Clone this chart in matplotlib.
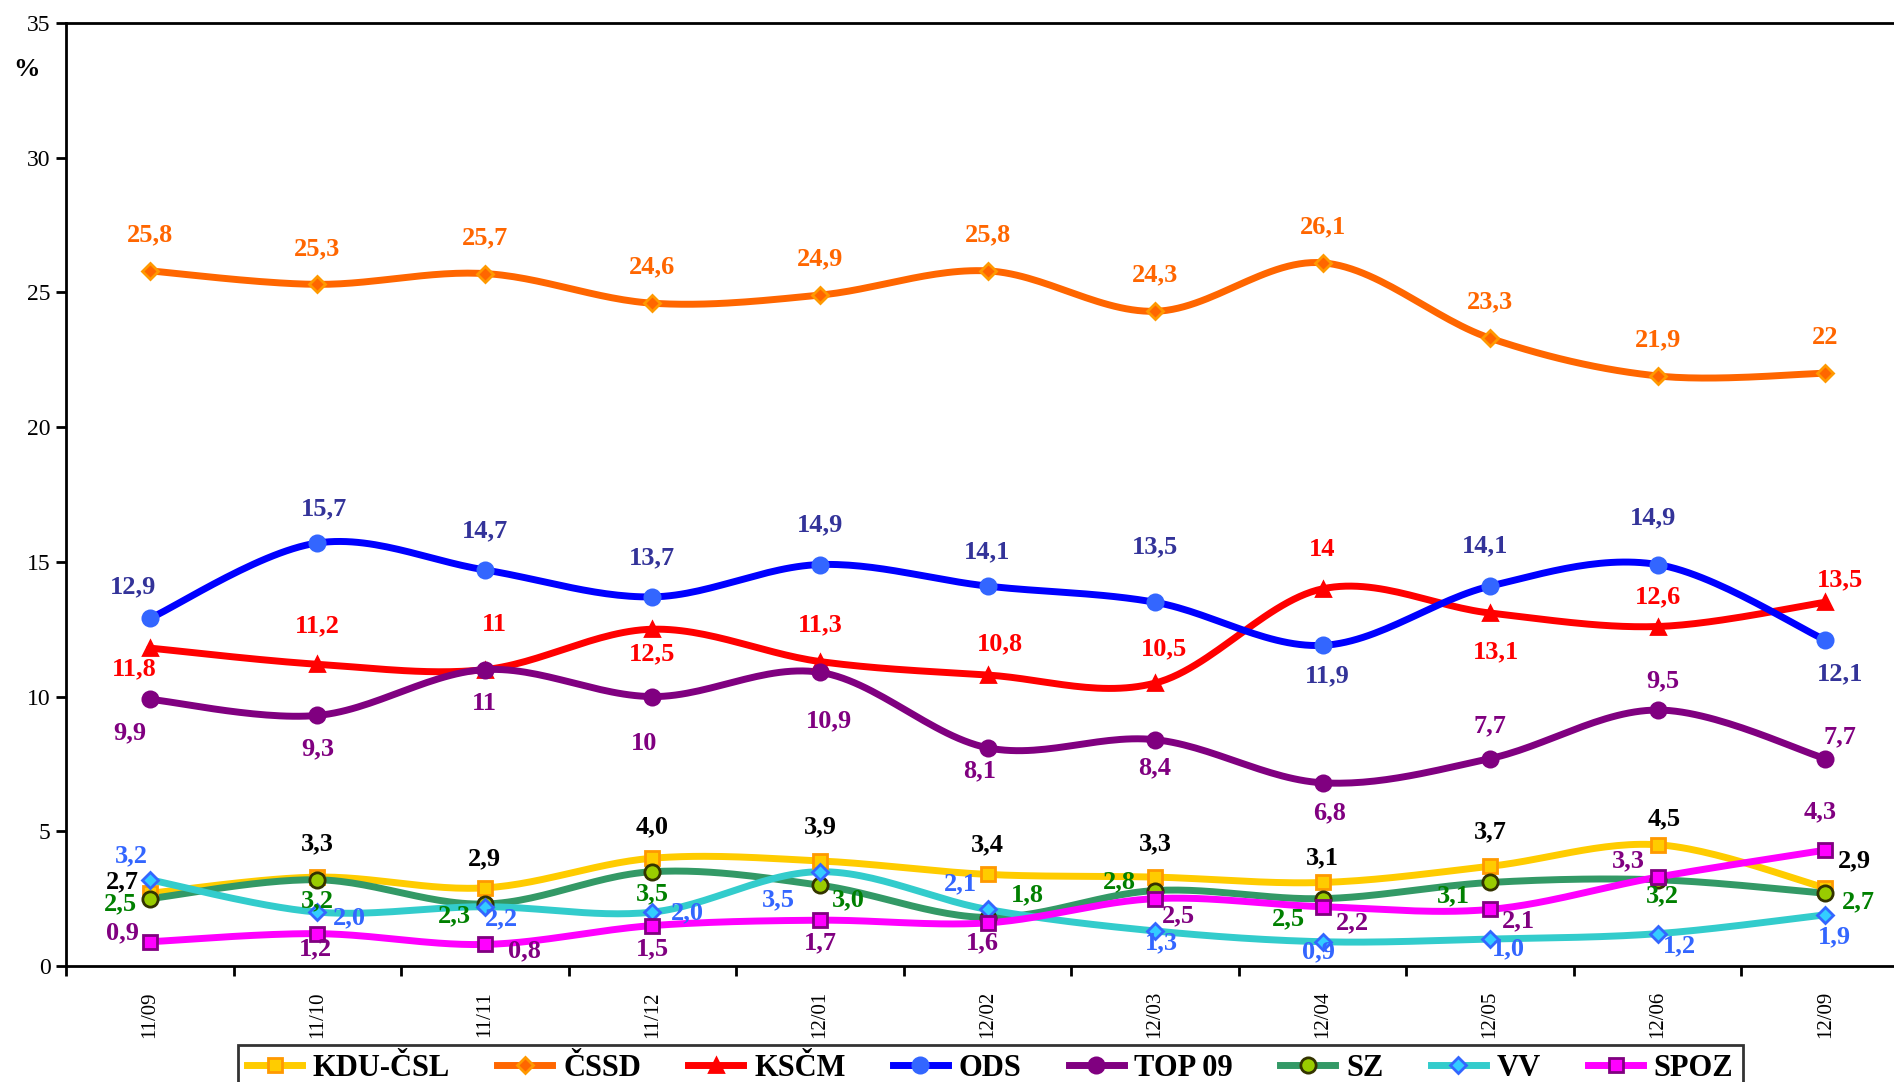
import numpy as np
import matplotlib
matplotlib.use("Agg")
import matplotlib.pyplot as plt
from matplotlib.lines import Line2D

plt.rcParams['font.family'] = ['Liberation Serif', 'DejaVu Serif']

months = ["11/09", "11/10", "11/11", "11/12", "12/01", "12/02",
          "12/03", "12/04", "12/05", "12/06", "12/09"]

kdu = [2.7, 3.3, 2.9, 4.0, 3.9, 3.4, 3.3, 3.1, 3.7, 4.5, 2.9]
cssd = [25.8, 25.3, 25.7, 24.6, 24.9, 25.8, 24.3, 26.1, 23.3, 21.9, 22]
kscm = [11.8, 11.2, 11, 12.5, 11.3, 10.8, 10.5, 14, 13.1, 12.6, 13.5]
ods = [12.9, 15.7, 14.7, 13.7, 14.9, 14.1, 13.5, 11.9, 14.1, 14.9, 12.1]
top09 = [9.9, 9.3, 11, 10, 10.9, 8.1, 8.4, 6.8, 7.7, 9.5, 7.7]
sz = [2.5, 3.2, 2.3, 3.5, 3.0, 1.8, 2.8, 2.5, 3.1, 3.2, 2.7]
vv = [3.2, 2.0, 2.2, 2.0, 3.5, 2.1, 1.3, 0.9, 1.0, 1.2, 1.9]
spoz = [0.9, 1.2, 0.8, 1.5, 1.7, 1.6, 2.5, 2.2, 2.1, 3.3, 4.3]

# label offsets in pixels (dx, dy), one per point
off_kdu = [(-27, 11), (0, 33), (0, 29), (0, 31), (0, 34), (0, 30), (0, 33), (0, 25), (0, 34), (7, 26), (29, 27)]
off_cssd = [(0, 36)] * 11
off_kscm = [(-16, -21), (0, 38), (10, 45), (0, -25), (0, 37), (12, 31), (9, 34), (0, 39), (6, -39), (0, 30), (15, 22)]
off_ods = [(-17, 32), (7, 34), (0, 39), (0, 39), (0, 40), (0, 34), (0, 55), (5, -30), (-5, 40), (-5, 47), (15, -34)]
off_top = [(-20, -34), (0, -33), (0, -34), (-8, -47), (9, -48), (-8, -23), (0, -28), (7, -30), (0, 33), (5, 29), (15, 22)]
off_sz = [(-29, -5), (0, -21), (-30, -12), (0, -22), (28, -15), (40, 23), (-36, 9), (-34, -20), (-37, -13), (5, -16), (33, -9)]
off_vv = [(-18, 24), (32, -6), (17, -12), (35, -1), (-42, -28), (-27, 26), (6, -12), (-4, -10), (18, -10), (22, -12), (9, -22)]
off_spoz = [(-27, 9), (-2, -15), (40, -6), (0, -23), (0, -23), (-5, -20), (23, -17), (30, -16), (28, -11), (-29, 16), (-5, 38)]


def smooth(y, n=30):
    # Excel-like smoothed line (Catmull-Rom as cubic Bezier)
    x = np.arange(len(y), dtype=float)
    p = np.column_stack([x, np.asarray(y, dtype=float)])
    pts = [p[0]] + list(p) + [p[-1]]
    out = []
    t = np.linspace(0, 1, n)[:, None]
    for i in range(1, len(pts) - 2):
        p0, p1, p2, p3 = pts[i - 1], pts[i], pts[i + 1], pts[i + 2]
        c1 = p1 + (p2 - p0) / 6
        c2 = p2 - (p3 - p1) / 6
        seg = ((1 - t) ** 3) * p1 + 3 * ((1 - t) ** 2) * t * c1 + 3 * (1 - t) * t ** 2 * c2 + t ** 3 * p2
        out.append(seg if i == 1 else seg[1:])
    s = np.vstack(out)
    return s[:, 0], s[:, 1]


series = [
    ("KDU-ČSL", kdu, "#FFCC00", "s", "#FFCC00", "#FF9900", 10, "black", off_kdu, True),
    ("ČSSD", cssd, "#FF6600", "D", "#FF6600", "#FF9900", 8, "#FF6600", off_cssd, False),
    ("KSČM", kscm, "#FF0000", "^", "#FF0000", "#FF0000", 10, "#FF0000", off_kscm, False),
    ("ODS", ods, "#0000FF", "o", "#3366FF", "#3366FF", 11, "#333399", off_ods, False),
    ("TOP 09", top09, "#800080", "o", "#800080", "#800080", 11, "#800080", off_top, False),
    ("SZ", sz, "#339966", "o", "#99CC00", "#333300", 11, "#008000", off_sz, True),
    ("VV", vv, "#33CCCC", "D", "#33CCFF", "#3366FF", 8, "#3366FF", off_vv, True),
    ("SPOZ", spoz, "#FF00FF", "s", "#FF00FF", "#800080", 10, "#800080", off_spoz, True),
]

fig = plt.figure(figsize=(18.94, 10.82), dpi=100)
ax = fig.add_axes([66 / 1894, 1 - 966 / 1082, 1843 / 1894, 943 / 1082])

handles = []
for name, vals, lc, mk, mfc, mec, ms, tc, offs, onedec in series:
    xs, ys = smooth(vals)
    ax.plot(xs, ys, color=lc, lw=5, solid_capstyle='round', zorder=2)
    ax.plot(range(len(vals)), vals, ls='none', marker=mk, ms=ms, mfc=mfc,
            mec=mec, mew=2, zorder=3)
    for i, v in enumerate(vals):
        txt = f"{v:.1f}" if onedec else f"{v:g}"
        ax.annotate(txt.replace('.', ','), (i, v), xytext=offs[i],
                    textcoords='offset pixels', ha='center', va='center',
                    fontsize=19, fontweight='bold', color=tc, zorder=4)
    handles.append(Line2D([0], [0], color=lc, lw=5, marker=mk, ms=ms,
                          mfc=mfc, mec=mec, mew=2))

ax.set_xlim(-0.5, len(months) - 0.5)
ax.set_ylim(0, 35)
ax.set_yticks(range(0, 36, 5))
ax.set_xticks(range(len(months)))
ax.set_xticklabels(months, rotation=90, fontsize=15)
ax.set_xticks(np.arange(-0.5, len(months), 1), minor=True)
ax.tick_params(axis='x', which='major', length=0, pad=18)
ax.tick_params(axis='x', which='minor', length=7, width=2, direction='out')
ax.tick_params(axis='y', length=7, width=2, labelsize=17, pad=4)
for s in ['left', 'bottom', 'top']:
    ax.spines[s].set_linewidth(2)
ax.spines['right'].set_visible(False)

fig.text(26.5 / 1894, 1 - 70 / 1082, "%", fontsize=19, fontweight='bold',
         ha='center', va='center')

leg = fig.legend(handles, [s[0] for s in series], ncol=8, loc='upper left',
                 bbox_to_anchor=(238 / 1894, 1 - 1045 / 1082),
                 prop={'weight': 'bold', 'size': 22}, frameon=True,
                 fancybox=False, edgecolor='black', handlelength=1.8,
                 handletextpad=0.35, columnspacing=1.55, borderaxespad=0,
                 borderpad=0.3)
leg.get_frame().set_linewidth(2)

fig.savefig("out.png", dpi=100)
